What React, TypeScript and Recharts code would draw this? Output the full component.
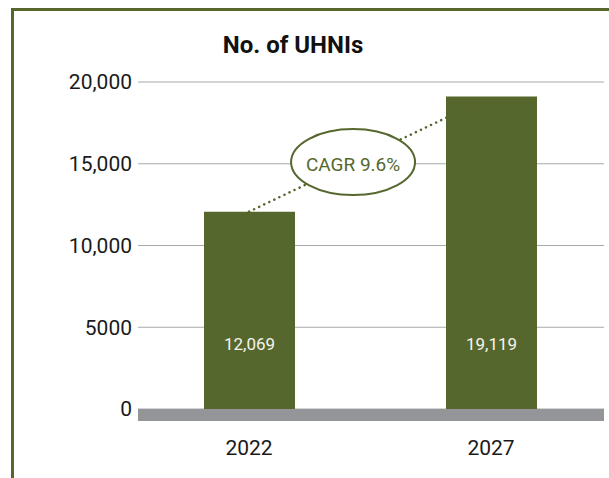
import React from 'react'
import {
  ComposedChart,
  Bar,
  Line,
  XAxis,
  YAxis,
  CartesianGrid,
  LabelList,
} from 'recharts'

const years = ['2022', '2027']
const uhniCounts = [12069, 19119]
const barLabels = ['12,069', '19,119']
const yTicks = [0, 5000, 10000, 15000, 20000]
const yTickLabels = ['0', '5000', '10,000', '15,000', '20,000']
const cagrText = 'CAGR 9.6%'

const olive = '#56672e'
const font = 'Roboto, "Noto Sans", sans-serif'

const data = years.map((year, i) => ({
  year,
  value: uhniCounts[i],
  label: barLabels[i],
}))

const App: React.FC = () => {
  // first point of the trend line, kept so the CAGR bubble can sit on the segment
  let start = { cx: 0, cy: 0 }

  const renderDot = (props: any) => {
    const { cx, cy, index } = props
    if (index === 0) {
      start = { cx, cy }
      return <g key="dot-0" />
    }
    const t = 0.43
    const ex = start.cx + (cx - start.cx) * t
    const ey = start.cy + (cy - start.cy) * t
    return (
      <g key={`dot-${index}`}>
        <ellipse cx={ex} cy={ey} rx={62} ry={33} fill="#fff" stroke={olive} strokeWidth={2} />
        <text
          x={ex}
          y={ey + 2}
          textAnchor="middle"
          dominantBaseline="central"
          fill={olive}
          fontSize={19}
          fontFamily={font}
        >
          {cagrText}
        </text>
      </g>
    )
  }

  return (
    <div
      style={{
        position: 'absolute',
        left: 0,
        top: 0,
        width: 609,
        height: 478,
        overflow: 'hidden',
        background: '#fff',
        fontFamily: font,
      }}
    >
      <div
        style={{
          position: 'absolute',
          left: 11,
          top: 8,
          width: 640,
          height: 520,
          borderTop: `3px solid ${olive}`,
          borderLeft: `3px solid ${olive}`,
        }}
      />
      <div
        style={{
          position: 'absolute',
          left: 0,
          top: 31,
          width: 586,
          textAlign: 'center',
          fontSize: 24,
          fontWeight: 'bold',
          color: '#111',
        }}
      >
        No. of UHNIs
      </div>
      <div style={{ position: 'absolute', left: 0, top: 0 }}>
        <ComposedChart
          width={609}
          height={478}
          data={data}
          margin={{ top: 82, right: 5, left: 0, bottom: 9 }}
        >
          <CartesianGrid vertical={false} stroke="#a7a9ac" />
          <XAxis
            dataKey="year"
            height={60}
            padding={{ left: -10, right: -8 }}
            tickLine={false}
            tickSize={0}
            tickMargin={31}
            axisLine={{ stroke: '#939598', strokeWidth: 12, transform: 'translate(0, 6)' }}
            tick={{ fontSize: 21, fill: '#1a1a1a', fontFamily: font }}
          />
          <YAxis
            width={138}
            domain={[0, 20000]}
            ticks={yTicks}
            interval={0}
            tickFormatter={(v: number) => yTickLabels[yTicks.indexOf(v)]}
            axisLine={false}
            tickLine={false}
            tickSize={0}
            tickMargin={6}
            tick={{ fontSize: 21, fill: '#1a1a1a', fontFamily: font }}
          />
          <Line
            type="linear"
            dataKey="value"
            stroke={olive}
            strokeWidth={2.5}
            strokeDasharray="0.1 5.5"
            strokeLinecap="round"
            dot={renderDot}
            activeDot={false}
            isAnimationActive={false}
          />
          <Bar dataKey="value" fill={olive} barSize={91} isAnimationActive={false}>
            <LabelList
              dataKey="label"
              position="insideBottom"
              offset={59}
              fill="#f4f4ee"
              fontSize={17}
              fontFamily={font}
            />
          </Bar>
        </ComposedChart>
      </div>
    </div>
  )
}

export default App
